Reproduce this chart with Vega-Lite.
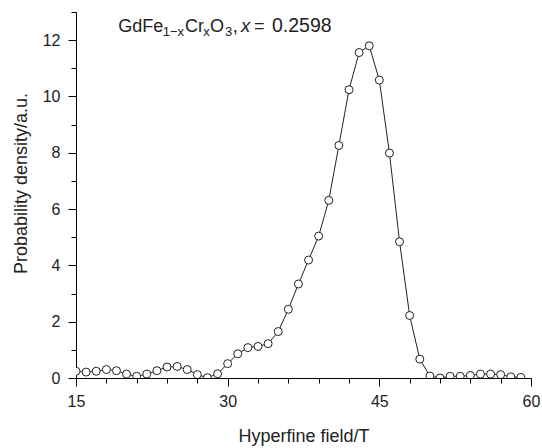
{
  "$schema": "https://vega.github.io/schema/vega-lite/v6.json",
  "width": 455,
  "height": 366,
  "autosize": {"type": "none"},
  "padding": {"left": 76, "top": 12, "right": 11, "bottom": 70},
  "config": {"view": {"stroke": null}, "font": "Liberation Sans", "axis": {"labelOverlap": false, "grid": false}},
  "resolve": {"axis": {"x": "independent", "y": "independent"}},
  "datasets": {
    "pts": [
      {"H": 15, "P": 0.24}, {"H": 16, "P": 0.21}, {"H": 17, "P": 0.24}, {"H": 18, "P": 0.30},
      {"H": 19, "P": 0.26}, {"H": 20, "P": 0.14}, {"H": 21, "P": 0.06}, {"H": 22, "P": 0.14},
      {"H": 23, "P": 0.26}, {"H": 24, "P": 0.39}, {"H": 25, "P": 0.41}, {"H": 26, "P": 0.30},
      {"H": 27, "P": 0.12}, {"H": 28, "P": 0.01}, {"H": 29, "P": 0.15}, {"H": 30, "P": 0.51},
      {"H": 31, "P": 0.86}, {"H": 32, "P": 1.08}, {"H": 33, "P": 1.12}, {"H": 34, "P": 1.22},
      {"H": 35, "P": 1.65}, {"H": 36, "P": 2.44}, {"H": 37, "P": 3.34}, {"H": 38, "P": 4.19},
      {"H": 39, "P": 5.04}, {"H": 40, "P": 6.31}, {"H": 41, "P": 8.26}, {"H": 42, "P": 10.24},
      {"H": 43, "P": 11.56}, {"H": 44, "P": 11.80}, {"H": 45, "P": 10.58}, {"H": 46, "P": 7.99},
      {"H": 47, "P": 4.84}, {"H": 48, "P": 2.22}, {"H": 49, "P": 0.67}, {"H": 50, "P": 0.07},
      {"H": 51, "P": 0.0}, {"H": 52, "P": 0.06}, {"H": 53, "P": 0.06}, {"H": 54, "P": 0.09},
      {"H": 55, "P": 0.14}, {"H": 56, "P": 0.14}, {"H": 57, "P": 0.12}, {"H": 58, "P": 0.04},
      {"H": 59, "P": 0.02}
    ],
    "lbl": [
      {"H": 19.18, "P": 12.307, "t": "GdFe", "k": "main"},
      {"H": 23.57, "P": 12.13, "t": "1−x", "k": "sub"},
      {"H": 25.78, "P": 12.307, "t": "Cr", "k": "main"},
      {"H": 27.59, "P": 12.13, "t": "x", "k": "sub"},
      {"H": 28.25, "P": 12.307, "t": "O", "k": "main"},
      {"H": 29.74, "P": 12.13, "t": "3", "k": "sub"},
      {"H": 30.50, "P": 12.307, "t": ",", "k": "main"},
      {"H": 31.32, "P": 12.307, "t": "x", "k": "ital"},
      {"H": 32.60, "P": 12.307, "t": "=", "k": "main"},
      {"H": 34.38, "P": 12.307, "t": "0.2598", "k": "num"}
    ]
  },
  "layer": [
    {
      "data": {"name": "pts"},
      "mark": {"type": "line", "color": "#222222", "strokeWidth": 1, "clip": true},
      "encoding": {
        "x": {
          "field": "H", "type": "quantitative",
          "scale": {"domain": [15, 60], "nice": false, "zero": false},
          "axis": {
            "orient": "bottom",
            "title": "Hyperfine field/T",
            "values": [15, 30, 45, 60],
            "tickSize": 8,
            "domainColor": "#000000", "tickColor": "#000000",
            "labelColor": "#222222", "labelFontSize": 16, "labelPadding": 7,
            "labelOverlap": false, "labelBound": false, "labelFlush": false,
            "titleColor": "#222222", "titleFontSize": 18, "titleFontWeight": "normal",
            "titlePadding": 18
          }
        },
        "y": {
          "field": "P", "type": "quantitative",
          "scale": {"domain": [0, 13], "nice": false},
          "axis": {
            "orient": "left",
            "title": "Probability density/a.u.",
            "values": [0, 2, 4, 6, 8, 10, 12],
            "tickSize": 8,
            "domainColor": "#000000", "tickColor": "#000000",
            "labelColor": "#222222", "labelFontSize": 16, "labelPadding": 8,
            "labelOverlap": false,
            "titleColor": "#222222", "titleFontSize": 18, "titleFontWeight": "normal",
            "titleX": -55, "titleY": 171, "titleBaseline": "middle"
          }
        }
      }
    },
    {
      "data": {"name": "pts"},
      "mark": {"type": "point", "shape": "circle", "size": 64, "fill": "white", "stroke": "#222222", "strokeWidth": 1, "opacity": 1, "fillOpacity": 1, "clip": true},
      "encoding": {
        "x": {
          "field": "H", "type": "quantitative",
          "axis": {
            "orient": "bottom", "title": null, "labels": false, "domain": false,
            "values": [18, 21, 24, 27, 33, 36, 39, 42, 48, 51, 54, 57],
            "tickSize": 5, "tickColor": "#000000"
          }
        },
        "y": {
          "field": "P", "type": "quantitative",
          "axis": {
            "orient": "left", "title": null, "labels": false, "domain": false,
            "values": [1, 3, 5, 7, 9, 11, 13],
            "tickSize": 5, "tickColor": "#000000"
          }
        }
      }
    },
    {
      "data": {"name": "lbl"},
      "transform": [{"filter": "datum.k === 'main'"}],
      "mark": {"type": "text", "align": "left", "baseline": "alphabetic", "fontSize": 18, "color": "#222222"},
      "encoding": {
        "x": {"field": "H", "type": "quantitative", "axis": null},
        "y": {"field": "P", "type": "quantitative", "axis": null},
        "text": {"field": "t"}
      }
    },
    {
      "data": {"name": "lbl"},
      "transform": [{"filter": "datum.k === 'num'"}],
      "mark": {"type": "text", "align": "left", "baseline": "alphabetic", "fontSize": 19.5, "color": "#222222"},
      "encoding": {
        "x": {"field": "H", "type": "quantitative", "axis": null},
        "y": {"field": "P", "type": "quantitative", "axis": null},
        "text": {"field": "t"}
      }
    },
    {
      "data": {"name": "lbl"},
      "transform": [{"filter": "datum.k === 'sub'"}],
      "mark": {"type": "text", "align": "left", "baseline": "alphabetic", "fontSize": 13, "color": "#222222"},
      "encoding": {
        "x": {"field": "H", "type": "quantitative", "axis": null},
        "y": {"field": "P", "type": "quantitative", "axis": null},
        "text": {"field": "t"}
      }
    },
    {
      "data": {"name": "lbl"},
      "transform": [{"filter": "datum.k === 'ital'"}],
      "mark": {"type": "text", "align": "left", "baseline": "alphabetic", "fontSize": 18.5, "fontStyle": "italic", "color": "#222222"},
      "encoding": {
        "x": {"field": "H", "type": "quantitative", "axis": null},
        "y": {"field": "P", "type": "quantitative", "axis": null},
        "text": {"field": "t"}
      }
    }
  ]
}
